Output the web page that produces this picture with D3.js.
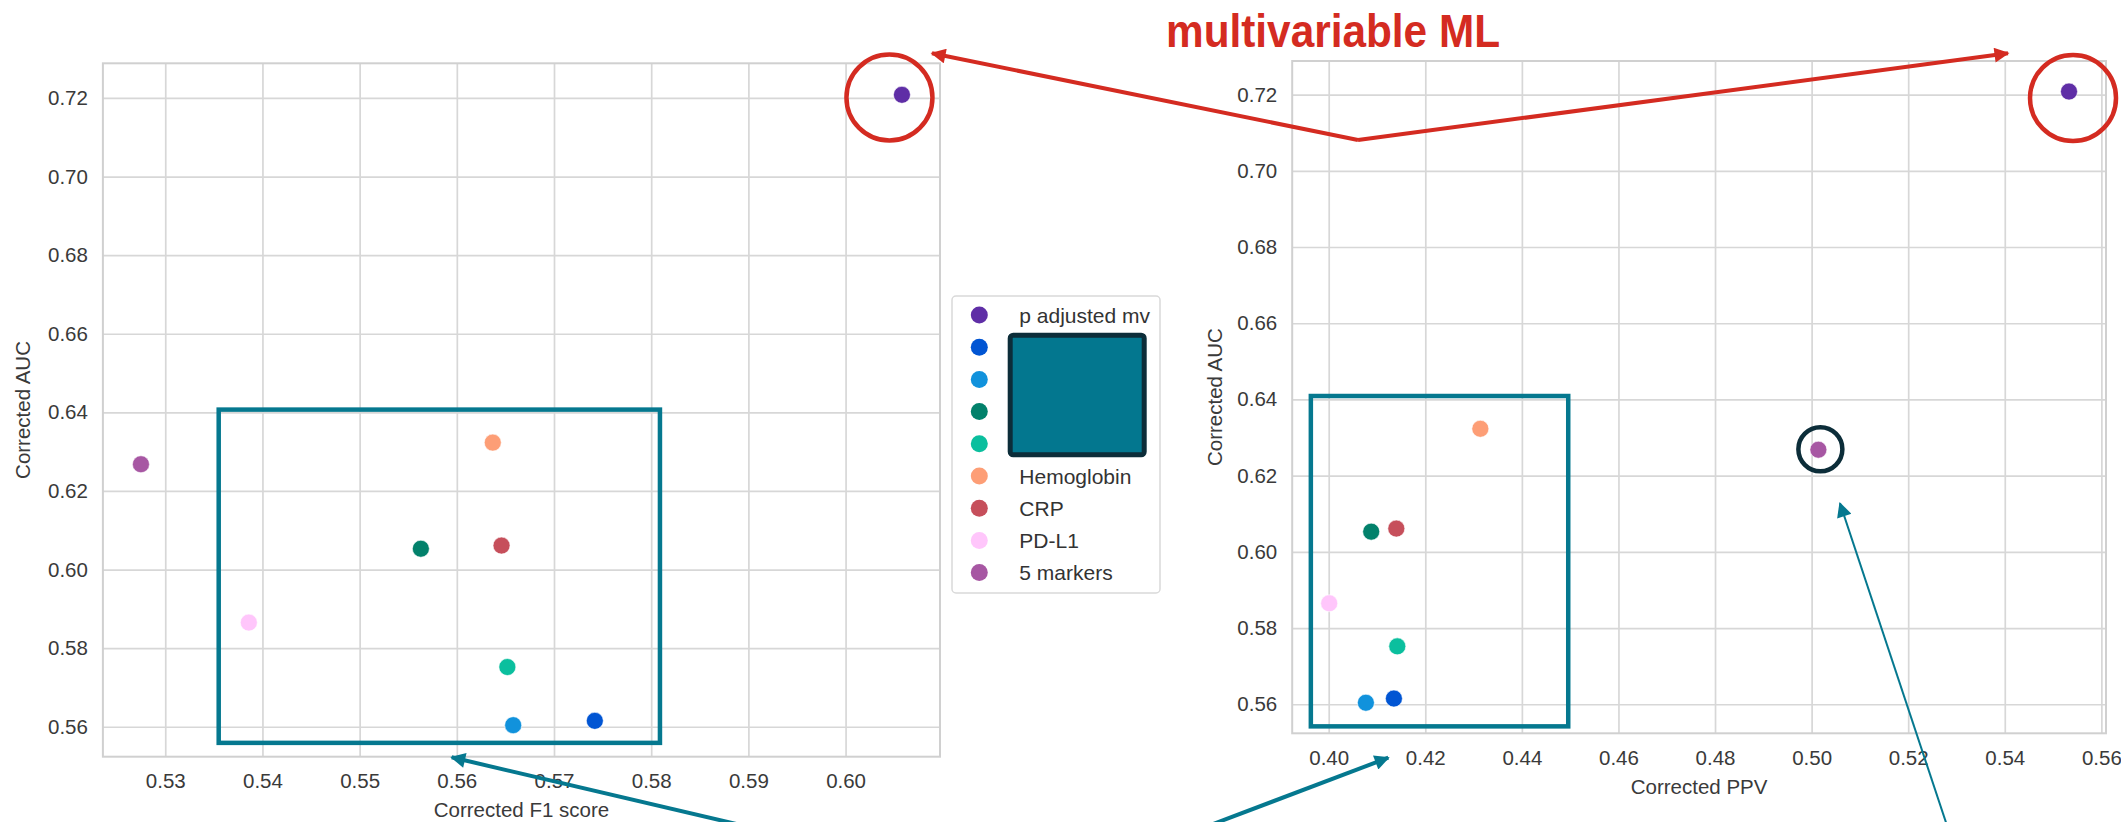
<!DOCTYPE html>
<html>
<head>
<meta charset="utf-8">
<script src="https://cdn.jsdelivr.net/npm/d3@7"></script>
<style>
  html, body { margin: 0; padding: 0; background: #ffffff; }
  svg { display: block; }
  text { font-family: Arial, "Liberation Sans", Helvetica, sans-serif; }
</style>
</head>
<body>
<svg id="chart" width="2121" height="822"></svg>
<script>
// ---------------- data ----------------
const categories = ["p adjusted mv", "", "", "", "", "Hemoglobin", "CRP", "PD-L1", "5 markers"];
const colors = ["#5f2ea6", "#0155d3", "#1192dc", "#02816b", "#0bbf9e", "#fd9e76", "#c64f5b", "#ffc6fb", "#a757a3"];
const f1Values  = [0.6058, 0.5742, 0.5658, 0.5563, 0.5652, 0.5637, 0.5646, 0.5386, 0.5275];
const ppvValues = [0.5533, 0.4135, 0.4077, 0.4088, 0.4142, 0.4314, 0.4140, 0.4001, 0.5014];
const aucValues = [0.7208, 0.5615, 0.5604, 0.6053, 0.5752, 0.6323, 0.6061, 0.5865, 0.6268];
const f1Ticks  = [0.53, 0.54, 0.55, 0.56, 0.57, 0.58, 0.59, 0.60];
const ppvTicks = [0.40, 0.42, 0.44, 0.46, 0.48, 0.50, 0.52, 0.54, 0.56];
const aucTicks = [0.56, 0.58, 0.60, 0.62, 0.64, 0.66, 0.68, 0.70, 0.72];
const titleText = "multivariable ML";
// highlighted regions (data coordinates)
const boxF1  = { x: [0.5355, 0.5809], y: [0.5559, 0.6407] };
const boxPPV = { x: [0.3963, 0.4496], y: [0.5542, 0.6409] };

// ---------------- setup ----------------
const svg = d3.select("#chart");
const TEAL = "#05788f", RED = "#d42b21", DARK = "#0c2d39";
const GRID = "#d7d7d7", TXT = "#3a3a3a";

svg.append("defs").call(defs => {
  [["headRed", RED], ["headTeal", TEAL]].forEach(([id, c]) => {
    defs.append("marker").attr("id", id)
      .attr("viewBox", "0 0 10 10").attr("refX", 9).attr("refY", 5)
      .attr("markerUnits", "userSpaceOnUse")
      .attr("markerWidth", 17).attr("markerHeight", 15)
      .attr("orient", "auto")
      .append("path").attr("d", "M0,0 L10,5 L0,10 Z").attr("fill", c);
  });
  defs.append("marker").attr("id", "headTealThin")
    .attr("viewBox", "0 0 10 10").attr("refX", 9).attr("refY", 5)
    .attr("markerUnits", "userSpaceOnUse")
    .attr("markerWidth", 18).attr("markerHeight", 15)
    .attr("orient", "auto")
    .append("path").attr("d", "M0,0 L10,5 L0,10 Z").attr("fill", TEAL);
});

function paddedDomain(vals) {
  const [lo, hi] = d3.extent(vals);
  const m = (hi - lo) * 0.05;
  return [lo - m, hi + m];
}

function panel(cfg) {
  const x = d3.scaleLinear().domain(paddedDomain(cfg.xVals)).range([cfg.left, cfg.right]);
  const y = d3.scaleLinear().domain(paddedDomain(aucValues)).range([cfg.bottom, cfg.top]);
  const g = svg.append("g");

  // grid
  g.append("g").attr("transform", `translate(0,${cfg.bottom})`)
    .call(d3.axisBottom(x).tickValues(cfg.xTicks).tickSize(-(cfg.bottom - cfg.top)).tickFormat(d3.format(".2f")).tickPadding(17))
    .call(a => a.select(".domain").remove())
    .call(a => a.selectAll(".tick line").attr("stroke", GRID).attr("stroke-width", 1.7))
    .call(a => a.selectAll(".tick text").attr("fill", TXT).attr("font-size", 20.5)
      .attr("font-family", "Arial, 'Liberation Sans', sans-serif"));
  g.append("g").attr("transform", `translate(${cfg.left},0)`)
    .call(d3.axisLeft(y).tickValues(aucTicks).tickSize(-(cfg.right - cfg.left)).tickFormat(d3.format(".2f")).tickPadding(15))
    .call(a => a.select(".domain").remove())
    .call(a => a.selectAll(".tick line").attr("stroke", GRID).attr("stroke-width", 1.7))
    .call(a => a.selectAll(".tick text").attr("fill", TXT).attr("font-size", 20.5)
      .attr("font-family", "Arial, 'Liberation Sans', sans-serif"));

  // frame
  g.append("rect").attr("x", cfg.left).attr("y", cfg.top)
    .attr("width", cfg.right - cfg.left).attr("height", cfg.bottom - cfg.top)
    .attr("fill", "none").attr("stroke", "#d0d0d0").attr("stroke-width", 2);

  // axis labels
  g.append("text").attr("x", (cfg.left + cfg.right) / 2).attr("y", cfg.bottom + 60.5)
    .attr("text-anchor", "middle").attr("font-size", 20.5).attr("fill", TXT).text(cfg.xLabel);
  g.append("text").attr("transform", `translate(${cfg.yLabelX},${(cfg.top + cfg.bottom) / 2}) rotate(-90)`)
    .attr("text-anchor", "middle").attr("font-size", 20.5).attr("fill", TXT).text("Corrected AUC");

  // points
  g.append("g").selectAll("circle").data(categories.map((c, i) => i)).join("circle")
    .attr("cx", i => x(cfg.xVals[i])).attr("cy", i => y(aucValues[i]))
    .attr("r", 8.5).attr("fill", i => colors[i])
    .attr("stroke", "#ffffff").attr("stroke-width", 0.6);

  return { x, y, g };
}

const P1 = panel({ left: 102.9, right: 940, top: 63.3, bottom: 756.7, xVals: f1Values, xTicks: f1Ticks,
                   xLabel: "Corrected F1 score", yLabelX: 30 });
const P2 = panel({ left: 1292.2, right: 2106, top: 61, bottom: 733.3, xVals: ppvValues, xTicks: ppvTicks,
                   xLabel: "Corrected PPV", yLabelX: 1222 });

// ---------------- legend ----------------
const lg = svg.append("g");
lg.append("rect").attr("x", 952).attr("y", 296).attr("width", 208).attr("height", 297)
  .attr("rx", 4).attr("fill", "#ffffff").attr("stroke", "#d9d9d9").attr("stroke-width", 1.5);
const rows = lg.selectAll("g.row").data(categories).join("g").attr("class", "row")
  .attr("transform", (d, i) => `translate(979.3,${315 + i * 32.2})`);
rows.append("circle").attr("r", 8.5).attr("fill", (d, i) => colors[i]);
rows.append("text").attr("x", 40).attr("y", 7.5).attr("font-size", 21).attr("fill", "#333333").text(d => d);
// covering box in legend
lg.append("rect").attr("x", 1010.2).attr("y", 335.2).attr("width", 134).attr("height", 119.6)
  .attr("rx", 3).attr("fill", "#03778f").attr("stroke", DARK).attr("stroke-width", 5);

// ---------------- annotations ----------------
// teal boxes
[[P1, boxF1], [P2, boxPPV]].forEach(([P, b]) => {
  svg.append("rect")
    .attr("x", P.x(b.x[0])).attr("y", P.y(b.y[1]))
    .attr("width", P.x(b.x[1]) - P.x(b.x[0])).attr("height", P.y(b.y[0]) - P.y(b.y[1]))
    .attr("fill", "none").attr("stroke", TEAL).attr("stroke-width", 4.5);
});

// red circles around multivariable ML points
const mv = 0;
svg.append("circle").attr("cx", P1.x(f1Values[mv]) - 12.5).attr("cy", P1.y(aucValues[mv]) + 2.7)
  .attr("r", 43).attr("fill", "none").attr("stroke", RED).attr("stroke-width", 4.5);
svg.append("circle").attr("cx", P2.x(ppvValues[mv]) + 4).attr("cy", P2.y(aucValues[mv]) + 6.5)
  .attr("r", 43).attr("fill", "none").attr("stroke", RED).attr("stroke-width", 4.5);

// dark circle around 5 markers (PPV panel)
const fm = 8;
svg.append("circle").attr("cx", P2.x(ppvValues[fm]) + 2).attr("cy", P2.y(aucValues[fm]) - 0.5)
  .attr("r", 22).attr("fill", "none").attr("stroke", DARK).attr("stroke-width", 4.5);

// title
svg.append("text").attr("x", 1166).attr("y", 46.5)
  .attr("font-size", 46).attr("font-weight", "bold").attr("fill", RED)
  .attr("textLength", 334).attr("lengthAdjust", "spacingAndGlyphs")
  .text(titleText);

// red arrows
const vertex = [1358, 140];
[[932, 53.3], [2008, 53.3]].forEach(t => {
  svg.append("line").attr("x1", vertex[0]).attr("y1", vertex[1]).attr("x2", t[0]).attr("y2", t[1])
    .attr("stroke", RED).attr("stroke-width", 4).attr("marker-end", "url(#headRed)");
});

// teal arrows from below
const origin = [1031, 893];
[[451.7, 757.3], [1388.3, 757.7]].forEach(t => {
  svg.append("line").attr("x1", origin[0]).attr("y1", origin[1]).attr("x2", t[0]).attr("y2", t[1])
    .attr("stroke", TEAL).attr("stroke-width", 4).attr("marker-end", "url(#headTeal)");
});
svg.append("line").attr("x1", 1948.5).attr("y1", 830).attr("x2", 1840).attr("y2", 503.3)
  .attr("stroke", TEAL).attr("stroke-width", 2).attr("marker-end", "url(#headTealThin)");
</script>
</body>
</html>
